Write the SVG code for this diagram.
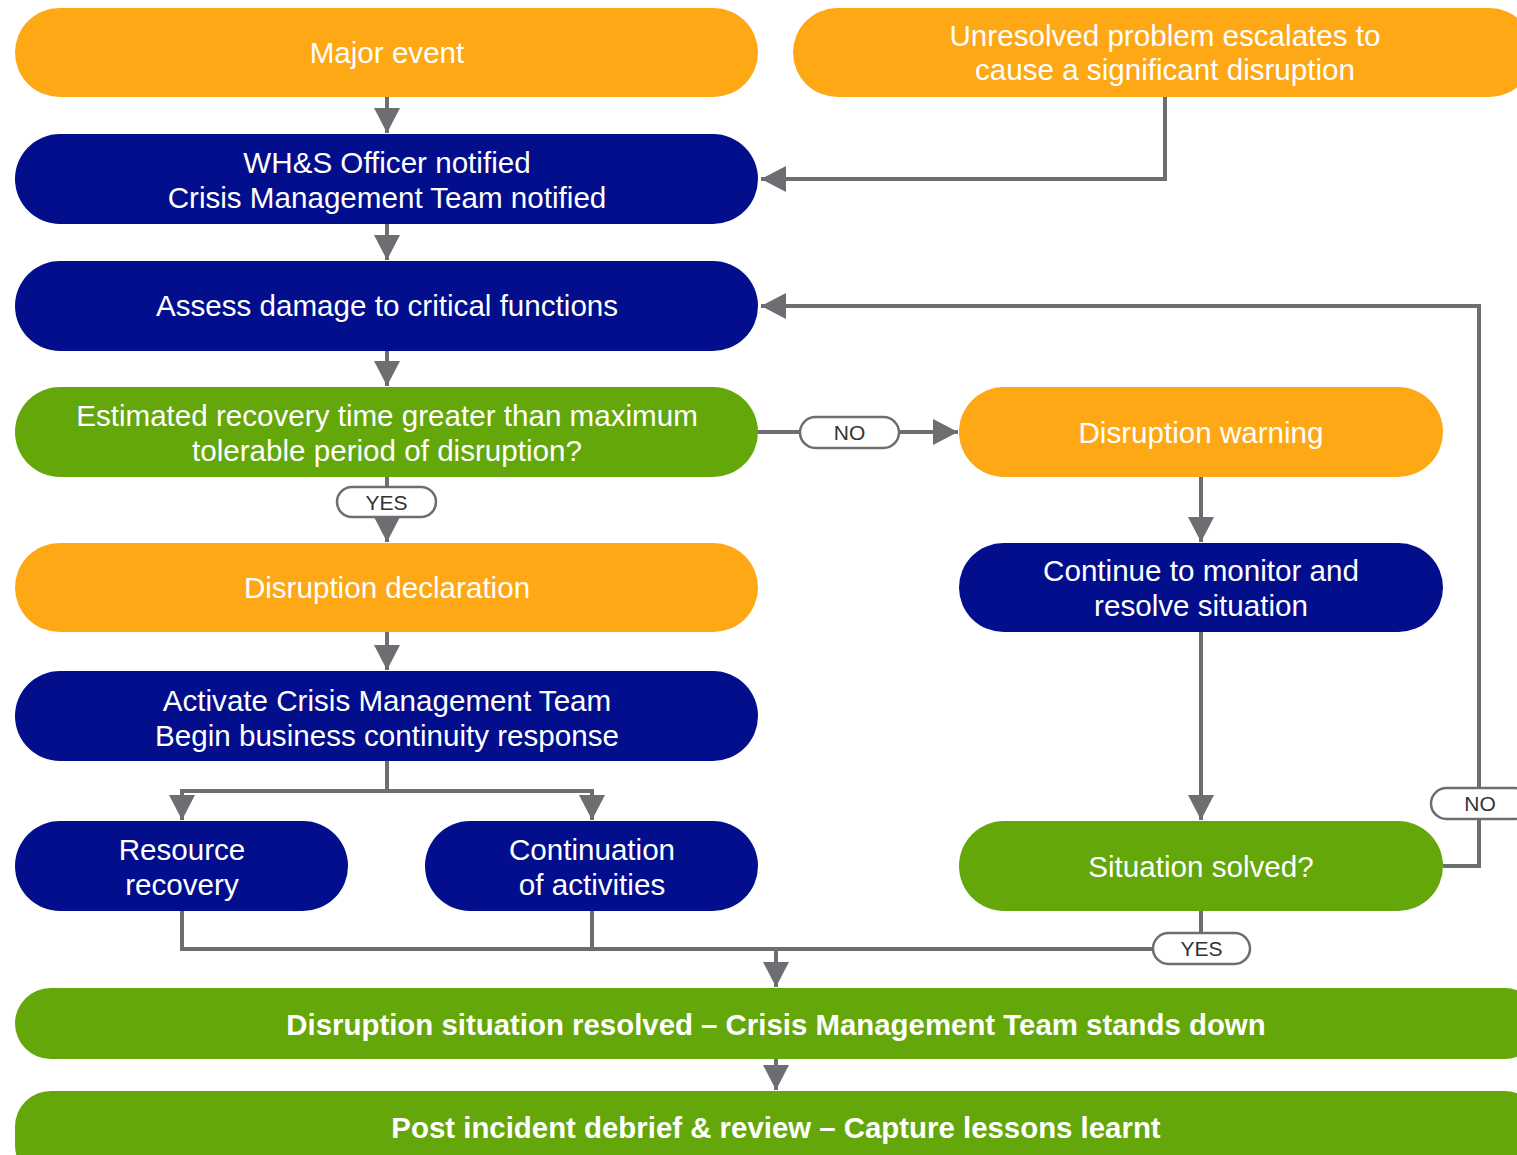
<svg xmlns="http://www.w3.org/2000/svg" width="1517" height="1155" viewBox="0 0 1517 1155">
<style>
.or{fill:#FEA816}
.nv{fill:#020E8B}
.gr{fill:#64A70B}
.t{font-family:"Liberation Sans",Arial,sans-serif;font-size:29.6px;fill:#fff;text-anchor:middle}
.b{font-weight:bold;font-size:29.4px}
.c{fill:none;stroke:#6D6E71;stroke-width:4}
.lp{fill:#fff;stroke:#6D6E71;stroke-width:2.5}
.lt{font-family:"Liberation Sans",Arial,sans-serif;font-size:21px;fill:#333;text-anchor:middle}
</style>
<defs>
<marker id="ah" markerUnits="userSpaceOnUse" markerWidth="26" markerHeight="26" refX="25" refY="13" orient="auto" viewBox="0 0 26 26">
<path d="M0,0 L25,13 L0,26 z" fill="#6D6E71"/>
</marker>
</defs>
<rect width="1517" height="1155" fill="#fff"/>
<g id="connectors">
<path class="c" d="M387,97 V133" marker-end="url(#ah)"/>
<path class="c" d="M1165,97 V179 H761" marker-end="url(#ah)"/>
<path class="c" d="M387,224 V260" marker-end="url(#ah)"/>
<path class="c" d="M387,351 V386" marker-end="url(#ah)"/>
<path class="c" d="M387,477 V542" marker-end="url(#ah)"/>
<path class="c" d="M758,432 H958" marker-end="url(#ah)"/>
<path class="c" d="M387,632 V670" marker-end="url(#ah)"/>
<path class="c" d="M387,761 V791 H182 V820" marker-end="url(#ah)"/>
<path class="c" d="M387,791 H592 V820" marker-end="url(#ah)"/>
<path class="c" d="M1201,477 V542" marker-end="url(#ah)"/>
<path class="c" d="M1201,632 V820" marker-end="url(#ah)"/>
<path class="c" d="M1443,866 H1479 V306 H761" marker-end="url(#ah)"/>
<path class="c" d="M182,911 V949 H1201 V911"/>
<path class="c" d="M592,911 V949"/>
<path class="c" d="M776,949 V987" marker-end="url(#ah)"/>
<path class="c" d="M776,1059 V1090" marker-end="url(#ah)"/>
<g id="label-no1"><rect class="lp" x="800" y="417" width="99" height="31" rx="15.5"/><text class="lt" x="849.5" y="440">NO</text></g>
<g id="label-yes1"><rect class="lp" x="337" y="487" width="99" height="30" rx="15"/><text class="lt" x="386.5" y="510">YES</text></g>
<g id="label-no2"><rect class="lp" x="1431" y="788" width="99" height="31" rx="15.5"/><text class="lt" x="1480" y="811">NO</text></g>
<g id="label-yes2"><rect class="lp" x="1153" y="933" width="97" height="31" rx="15.5"/><text class="lt" x="1201.5" y="956">YES</text></g>
</g>
<g id="major-event"><rect class="or" x="15" y="8" width="743" height="89" rx="44.5"/><text class="t" x="387" y="63">Major event</text></g>
<g id="unresolved"><rect class="or" x="793" y="8" width="741" height="89" rx="44.5"/><text class="t" x="1165" y="46">Unresolved problem escalates to</text><text class="t" x="1165" y="80">cause a significant disruption</text></g>
<g id="whs"><rect class="nv" x="15" y="134" width="743" height="90" rx="45"/><text class="t" x="387" y="173">WH&amp;S Officer notified</text><text class="t" x="387" y="208">Crisis Management Team notified</text></g>
<g id="assess"><rect class="nv" x="15" y="261" width="743" height="90" rx="45"/><text class="t" x="387" y="316">Assess damage to critical functions</text></g>
<g id="estimated"><rect class="gr" x="15" y="387" width="743" height="90" rx="45"/><text class="t" x="387" y="426">Estimated recovery time greater than maximum</text><text class="t" x="387" y="461">tolerable period of disruption?</text></g>
<g id="declaration"><rect class="or" x="15" y="543" width="743" height="89" rx="44.5"/><text class="t" x="387" y="598">Disruption declaration</text></g>
<g id="activate"><rect class="nv" x="15" y="671" width="743" height="90" rx="45"/><text class="t" x="387" y="711">Activate Crisis Management Team</text><text class="t" x="387" y="746">Begin business continuity response</text></g>
<g id="resource"><rect class="nv" x="15" y="821" width="333" height="90" rx="45"/><text class="t" x="182" y="860">Resource</text><text class="t" x="182" y="895">recovery</text></g>
<g id="continuation"><rect class="nv" x="425" y="821" width="333" height="90" rx="45"/><text class="t" x="592" y="860">Continuation</text><text class="t" x="592" y="895">of activities</text></g>
<g id="warning"><rect class="or" x="959" y="387" width="484" height="90" rx="45"/><text class="t" x="1201" y="443">Disruption warning</text></g>
<g id="monitor"><rect class="nv" x="959" y="543" width="484" height="89" rx="44.5"/><text class="t" x="1201" y="581">Continue to monitor and</text><text class="t" x="1201" y="616">resolve situation</text></g>
<g id="solved"><rect class="gr" x="959" y="821" width="484" height="90" rx="45"/><text class="t" x="1201" y="877">Situation solved?</text></g>
<g id="resolved"><rect class="gr" x="15" y="988" width="1525" height="71" rx="35.5"/><text class="t b" x="776" y="1035">Disruption situation resolved – Crisis Management Team stands down</text></g>
<g id="debrief"><rect class="gr" x="15" y="1091" width="1525" height="90" rx="35.5"/><text class="t b" x="776" y="1138">Post incident debrief &amp; review – Capture lessons learnt</text></g>
</svg>
